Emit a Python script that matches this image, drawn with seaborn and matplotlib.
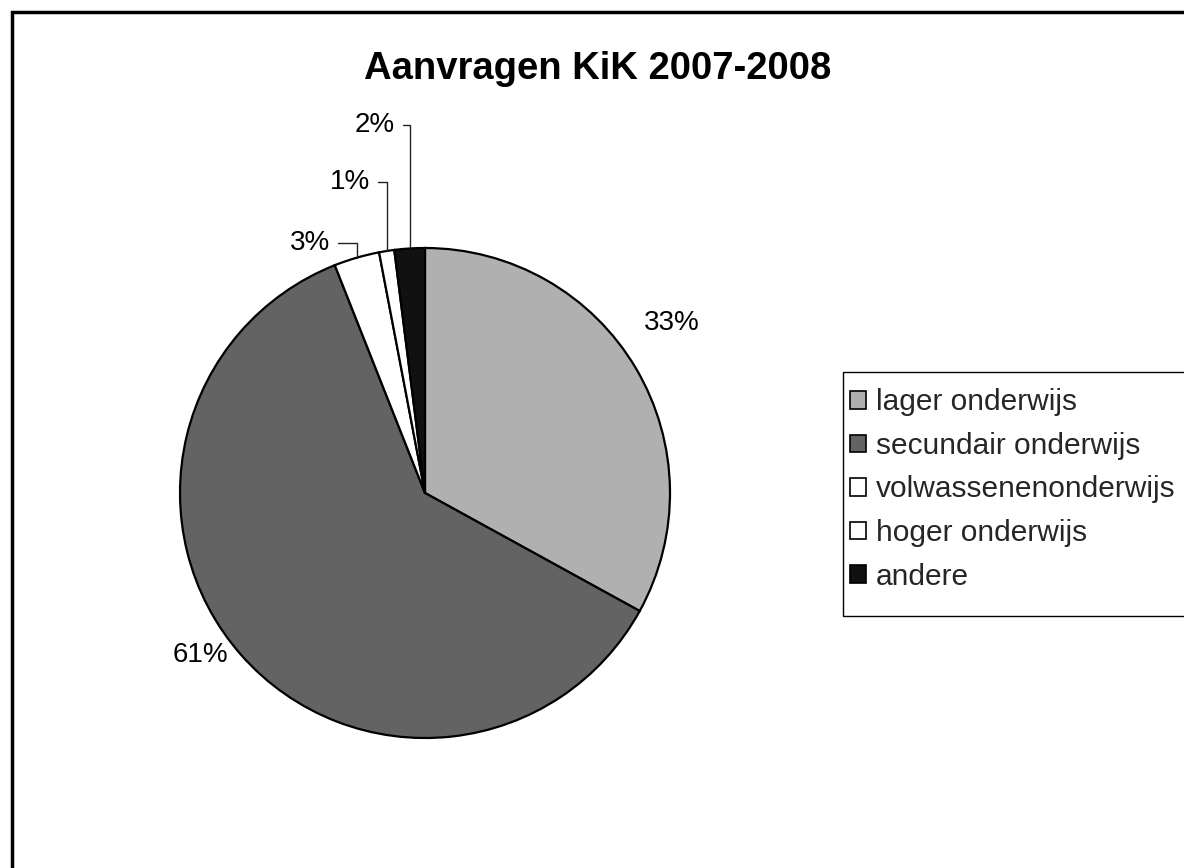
import numpy as np
import matplotlib
matplotlib.use("Agg")
import matplotlib.pyplot as plt
import seaborn as sns
from matplotlib.patches import Rectangle

# ---- data ----
categories = ["lager onderwijs", "secundair onderwijs", "volwassenenonderwijs",
              "hoger onderwijs", "andere"]
shares = [33, 61, 3, 1, 2]
pct_labels = ["33%", "61%", "3%", "1%", "2%"]
title = "Aanvragen KiK 2007-2008"

# ---- style ----
colors = ["#b0b0b0", "#636363", "#ffffff", "#ffffff", "#111111"]
# label text positions (data units, pie radius = 1) and whether a leader line is drawn
label_pos = [(1.008, 0.694), (-0.918, -0.661), (-0.469, 1.020), (-0.306, 1.269), (-0.204, 1.502)]
leader = [False, False, True, True, True]

sns.set_theme(style="white")
plt.rcParams["font.family"] = ["Liberation Sans", "DejaVu Sans"]

W, H = 1184, 868
fig = plt.figure(figsize=(W / 100, H / 100), dpi=100)
fig.patch.set_facecolor("white")

cx, cy, r = 425, 493, 245
ax = fig.add_axes([(cx - r) / W, (H - cy - r) / H, 2 * r / W, 2 * r / H])
wedges, _ = ax.pie(shares, colors=colors, startangle=90, counterclock=False,
                   radius=1.0,
                   wedgeprops=dict(edgecolor="black", linewidth=1.6))
ax.set_xlim(-1, 1)
ax.set_ylim(-1, 1)
ax.set_aspect("equal")
ax.axis("off")

for w, lab, pos, ld in zip(wedges, pct_labels, label_pos, leader):
    mid = np.deg2rad((w.theta1 + w.theta2) / 2)
    edge = (np.cos(mid), np.sin(mid))
    if ld:
        ax.annotate(lab, xy=edge, xytext=pos, ha="center", va="center",
                    fontsize=20, color="black", annotation_clip=False,
                    arrowprops=dict(arrowstyle="-", color="#222222", lw=1.0,
                                    shrinkA=3, shrinkB=0, relpos=(1.0, 0.5),
                                    connectionstyle="angle,angleA=0,angleB=90,rad=0"))
    else:
        ax.text(pos[0], pos[1], lab, ha="center", va="center", fontsize=20,
                color="black", clip_on=False)

fig.text(598 / W, 1 - 69 / H, title, ha="center", va="center",
         fontsize=27.5, fontweight="bold", color="black")

leg = fig.legend(wedges, categories, loc="upper left",
                 bbox_to_anchor=(834 / W, 1 - 372 / H),
                 fontsize=21.5, frameon=False,
                 handlelength=0.52, handleheight=0.52, handletextpad=0.33,
                 labelspacing=0.52, borderpad=0.55, borderaxespad=0.0)
for h in leg.legend_handles:
    h.set_linewidth(1.2)
    h.set_edgecolor("black")

# legend box (runs past the right edge, as in the reference)
fig.patches.append(Rectangle((843 / W, 1 - 616 / H), 0.5, (616 - 372) / H,
                             transform=fig.transFigure, fill=False,
                             edgecolor="black", linewidth=1.0))

# outer chart frame (extends past right and bottom edges)
fig.patches.append(Rectangle((12 / W, -0.05), 1.1, 1 - 12 / H + 0.05,
                             transform=fig.transFigure, fill=False,
                             edgecolor="black", linewidth=2.5))

fig.savefig("out.png", dpi=100, facecolor="white")
